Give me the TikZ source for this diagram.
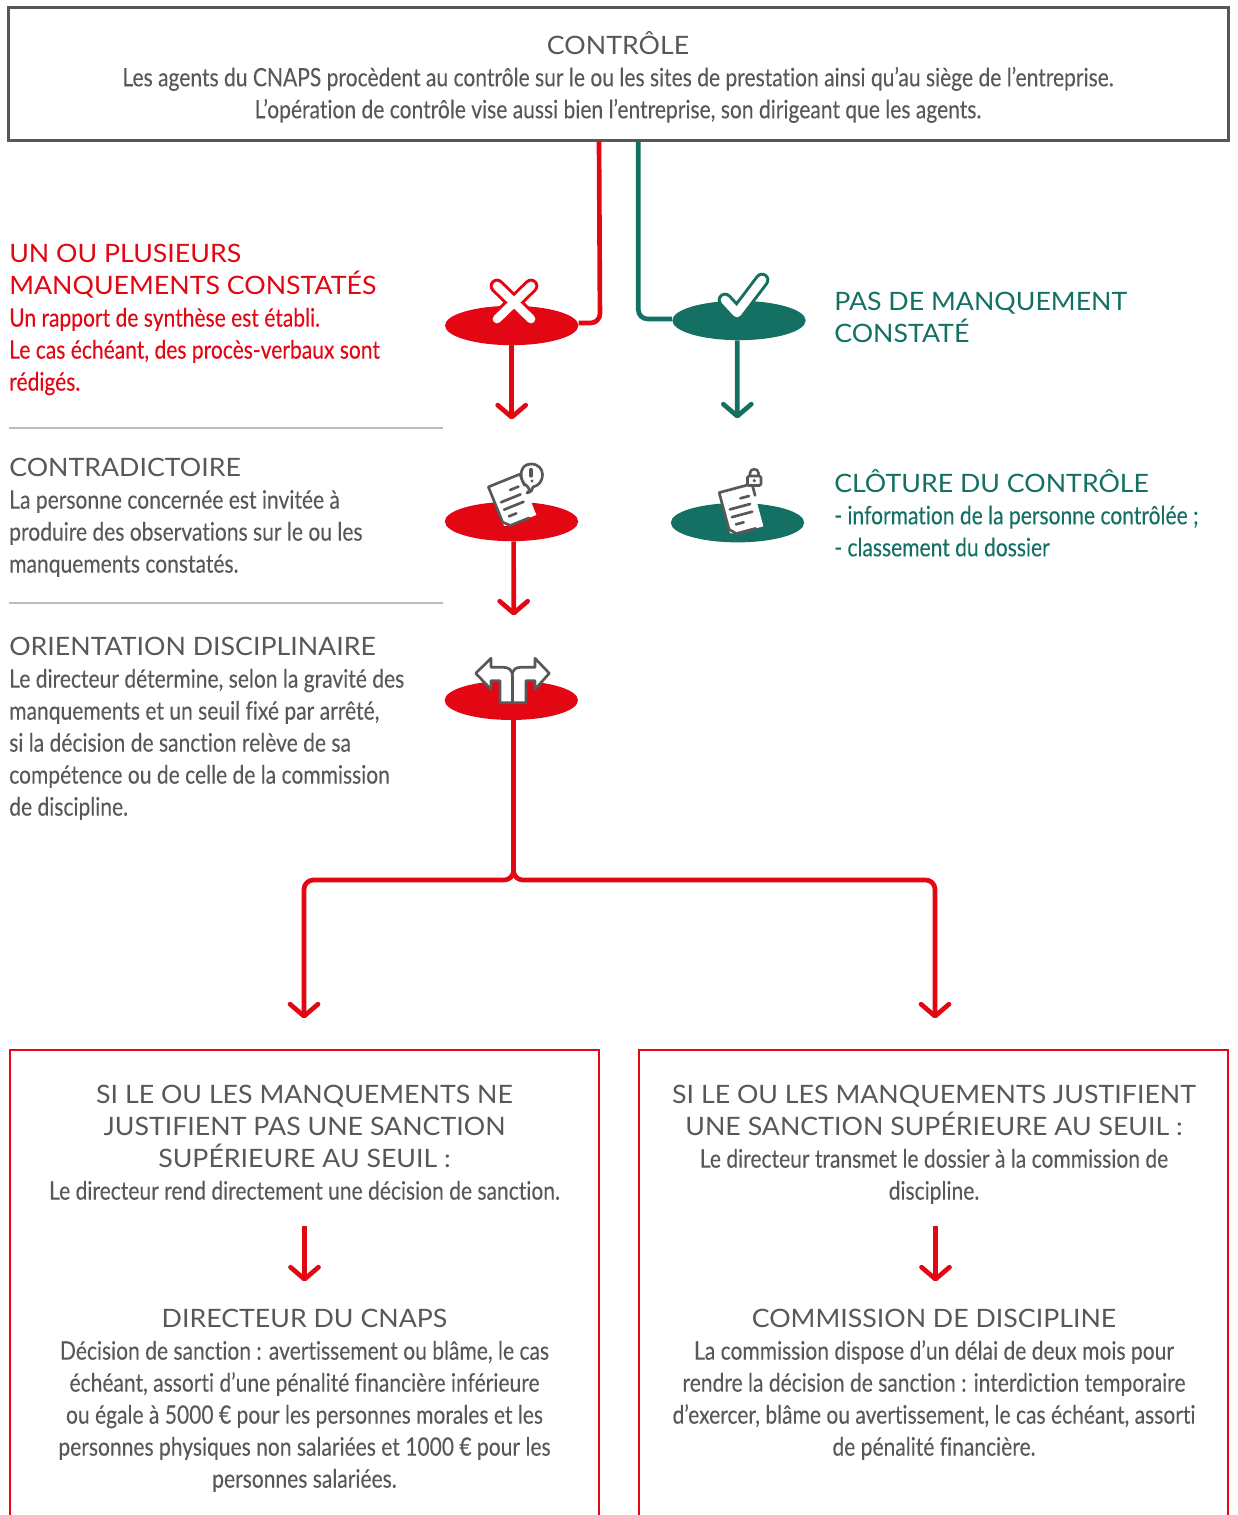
\documentclass[tikz,border=0pt]{standalone}
\usepackage{fontspec}
\setmainfont{Lato}
\newfontfamily\bodyfont[FakeStretch=0.83,Ligatures=NoCommon,FakeBold=0.12]{Lato}
\newfontfamily\headfont[FakeStretch=1.055,Ligatures=NoCommon]{Lato}
\newcommand{\hd}[1]{{\headfont #1}}
\usetikzlibrary{arrows.meta,positioning,shapes.geometric}
\definecolor{cnapsred}{RGB}{227,6,19}
\definecolor{cnapsgreen}{RGB}{20,112,98}
\definecolor{cnapsgrey}{RGB}{88,88,90}
\definecolor{rulegrey}{RGB}{188,188,188}
\tikzset{
  disc/.style={ellipse,minimum width=100pt,minimum height=29.5pt,inner sep=0pt},
  reddisc/.style={disc,fill=cnapsred},
  greendisc/.style={disc,fill=cnapsgreen},
  link/.style={line width=3.5pt,rounded corners=7pt},
  tipped/.style={link,-{Straight Barb[length=9pt,width=21pt,line width=3.5pt,round]}},
  txt/.style={inner sep=0pt,font=\bodyfont\fontsize{19}{24}\selectfont},
  txtleft/.style={txt,anchor=north west,align=left},
  txtmid/.style={txt,anchor=north,align=center},
  iconline/.style={draw=cnapsgrey,line width=2pt,line cap=round,line join=round},
  pics/docicon/.style={code={
    \fill[white] (-17,-21) -- (-11,-23) -- (17,-23) -- (17,21) -- (-17,21) -- cycle;
    \draw[iconline] (9,-23) -- (-11,-23) -- (-17,-17) -- (-17,21) -- (17,21) -- (17,9);
    \draw[iconline] (-9,-14) -- (-1,-14);
    \draw[iconline] (-11,-6) -- (10,-6);
    \draw[iconline] (-11,2) -- (10,2);
    \draw[iconline] (2,10) -- (11,10);
  }}
}
\begin{document}
\begin{tikzpicture}[x=0.75pt,y=0.75pt,yscale=-1,xscale=1]
\useasboundingbox (0,0) rectangle (1237,1515);

%Shape: Ellipse
\draw (511.7,325.5) node (redfound) [reddisc] {};
\draw (739,320.5) node (greenfound) [greendisc] {};
\draw (511.5,521.5) node (redcontra) [reddisc] {};
\draw (737.5,522.7) node (greenclose) [greendisc] {};
\draw (511.3,700.3) node (redorient) [reddisc] {};

%Shape: Rectangle
\draw (618.5,74) node (controle) [draw=cnapsgrey,line width=2.2pt,minimum width=914.5pt,minimum height=100pt,inner sep=0pt] {};
\draw [cnapsred,line width=1.7pt] (10,1515) -- (10,1050) -- (599,1050) -- (599,1515);
\draw [cnapsred,line width=1.7pt] (639,1515) -- (639,1050) -- (1228,1050) -- (1228,1515);

%Straight Lines
\draw [rulegrey,line width=0.8pt] (9,428) -- (443,428);
\draw [rulegrey,line width=0.8pt] (9,603) -- (443,603);

\coordinate (redstart) at (599,141);
\coordinate (greenstart) at (638.3,141);
\coordinate (redknee) at (600,323);
\coordinate (greenknee) at (638.3,319);
\coordinate (tipone) at (511.7,419.5);
\coordinate (tiptwo) at (737.3,418.5);
\coordinate (tipthree) at (513.7,615.5);
\coordinate (forkmid) at (513.5,880);
\coordinate (forkleft) at (304,880);
\coordinate (forkright) at (935,880);
\coordinate (tipleft) at (304,1018.5);
\coordinate (tipright) at (935,1018.5);
\coordinate (boxstartl) at (304.5,1226);
\coordinate (boxtipl) at (304.5,1281.5);
\coordinate (boxstartr) at (935.5,1226);
\coordinate (boxtipr) at (935.5,1281.5);

\draw [link,cnapsred] (redstart) -- (redknee) -- (redfound.east |- redknee);
\draw [link,cnapsgreen] (greenstart) -- (greenknee) -- (greenfound.west |- greenknee);
\draw [tipped,cnapsred] (redfound.south) -- (tipone);
\draw [tipped,cnapsgreen] ([xshift=-1.3pt]greenfound.south) -- (tiptwo);
\draw [tipped,cnapsred] ([xshift=1.6pt]redcontra.south) -- (tipthree);
\draw [tipped,cnapsred] ([xshift=1.6pt]redorient.south) -- (forkmid) -- (forkleft) -- (tipleft);
\draw [tipped,cnapsred] ([xshift=1.6pt]redorient.south) -- (forkmid) -- (forkright) -- (tipright);
\draw [tipped,cnapsred] (boxstartl) -- (boxtipl);
\draw [tipped,cnapsred] (boxstartr) -- (boxtipr);

%Shape: icons
\draw [cnapsred,line width=11pt,line cap=round] (497,286) -- (531,319) (531,286) -- (497,319);
\draw [white,line width=6.5pt,line cap=round] (497,286) -- (531,319) (531,286) -- (497,319);
\draw [cnapsgreen,line width=11pt,line cap=round,line join=round] (725,300) -- (737,313) -- (762,280);
\draw [white,line width=6.5pt,line cap=round,line join=round] (725,300) -- (737,313) -- (762,280);

\pic [rotate=22] at (512,500) {docicon};
\pic [rotate=15] at (741,508.5) {docicon};

% bubble
\draw [iconline,fill=white] (527,493) .. controls (531,490) and (529,488) .. (527,486) .. controls (519,482) and (518,464) .. (531,464) .. controls (546,464) and (546,484) .. (533,487) .. controls (533,490) and (531,492) .. (527,493) -- cycle;
\draw [cnapsgrey,line width=2.4pt,line cap=round] (531,469.5) -- (531,476);
\fill [cnapsgrey] (532,481) circle (1.6);
% lock
\draw [cnapsgrey,line width=1.9pt] (750,475) -- (750,473) .. controls (750,468) and (758.5,468) .. (758.5,473) -- (758.5,475);
\draw [cnapsgrey,line width=1.9pt,fill=white,rounded corners=1pt] (747.5,476) rectangle (761,485.5);
\fill [cnapsgrey] (754.3,480.7) circle (1.8);

% turn arrows
\draw [iconline,fill=white,line width=2pt] (512.3,702.7) -- (500,702.7) -- (500,680.7) -- (491,680.7) -- (491,689.3) -- (475.7,673.3) -- (491,658.3) -- (491,667.3) -- (503,667.3) .. controls (508,667.3) and (512.3,669) .. (512.3,676) .. controls (512.3,669) and (516,667.3) .. (521,667.3) -- (535,667.3) -- (535,658.3) -- (549.3,673.3) -- (535,689.3) -- (535,680.7) -- (526,680.7) -- (526,702.7) -- cycle;
\draw [iconline,line width=2pt] (512.3,676) -- (512.3,702.7);

% Text Node
\draw (618,31) node (controletxt) [txtmid,text=cnapsgrey] {\hd{CONTRÔLE}\\Les agents du CNAPS procèdent au contrôle sur le ou les sites de prestation ainsi qu’au siège de l’entreprise.\\L’opération de contrôle vise aussi bien l’entreprise, son dirigeant que les agents.};
% Text Node
\draw (9,244) node (foundtxt) [txtleft,text=cnapsred] {\hd{UN OU PLUSIEURS}\\\hd{MANQUEMENTS CONSTATÉS}\\Un rapport de synthèse est établi.\\Le cas échéant, des procès-verbaux sont\\rédigés.};
% Text Node
\draw (834,292) node (cleartxt) [txtleft,text=cnapsgreen] {\hd{PAS DE MANQUEMENT}\\\hd{CONSTATÉ}};
% Text Node
\draw (9,458) node (contratxt) [txtleft,text=cnapsgrey] {\hd{CONTRADICTOIRE}\\La personne concernée est invitée à\\produire des observations sur le ou les\\manquements constatés.};
% Text Node
\draw (834,469) node (closetxt) [txtleft,text=cnapsgreen] {\hd{CLÔTURE DU CONTRÔLE}\\- information de la personne contrôlée ;\\- classement du dossier};
% Text Node
\draw (9,637) node (orienttxt) [txtleft,text=cnapsgrey] {\hd{ORIENTATION DISCIPLINAIRE}\\Le directeur détermine, selon la gravité des\\manquements et un seuil fixé par arrêté,\\si la décision de sanction relève de sa\\compétence ou de celle de la commission\\de discipline.};
% Text Node
\draw (304.5,1085) node (lowtxt) [txtmid,text=cnapsgrey] {\hd{SI LE OU LES MANQUEMENTS NE}\\\hd{JUSTIFIENT PAS UNE SANCTION}\\\hd{SUPÉRIEURE AU SEUIL :}\\Le directeur rend directement une décision de sanction.};
% Text Node
\draw (934,1085) node (hightxt) [txtmid,text=cnapsgrey] {\hd{SI LE OU LES MANQUEMENTS JUSTIFIENT}\\\hd{UNE SANCTION SUPÉRIEURE AU SEUIL :}\\Le directeur transmet le dossier à la commission de\\discipline.};
% Text Node
\draw (304.5,1309) node (dirtxt) [txtmid,text=cnapsgrey] {\hd{DIRECTEUR DU CNAPS}\\Décision de sanction : avertissement ou blâme, le cas\\échéant, assorti d’une pénalité financière inférieure\\ou égale à 5000 € pour les personnes morales et les\\personnes physiques non salariées et 1000 € pour les\\personnes salariées.};
% Text Node
\draw (934,1309) node (comtxt) [txtmid,text=cnapsgrey] {\hd{COMMISSION DE DISCIPLINE}\\La commission dispose d’un délai de deux mois pour\\rendre la décision de sanction : interdiction temporaire\\d’exercer, blâme ou avertissement, le cas échéant, assorti\\de pénalité financière.};

\end{tikzpicture}
\end{document}
